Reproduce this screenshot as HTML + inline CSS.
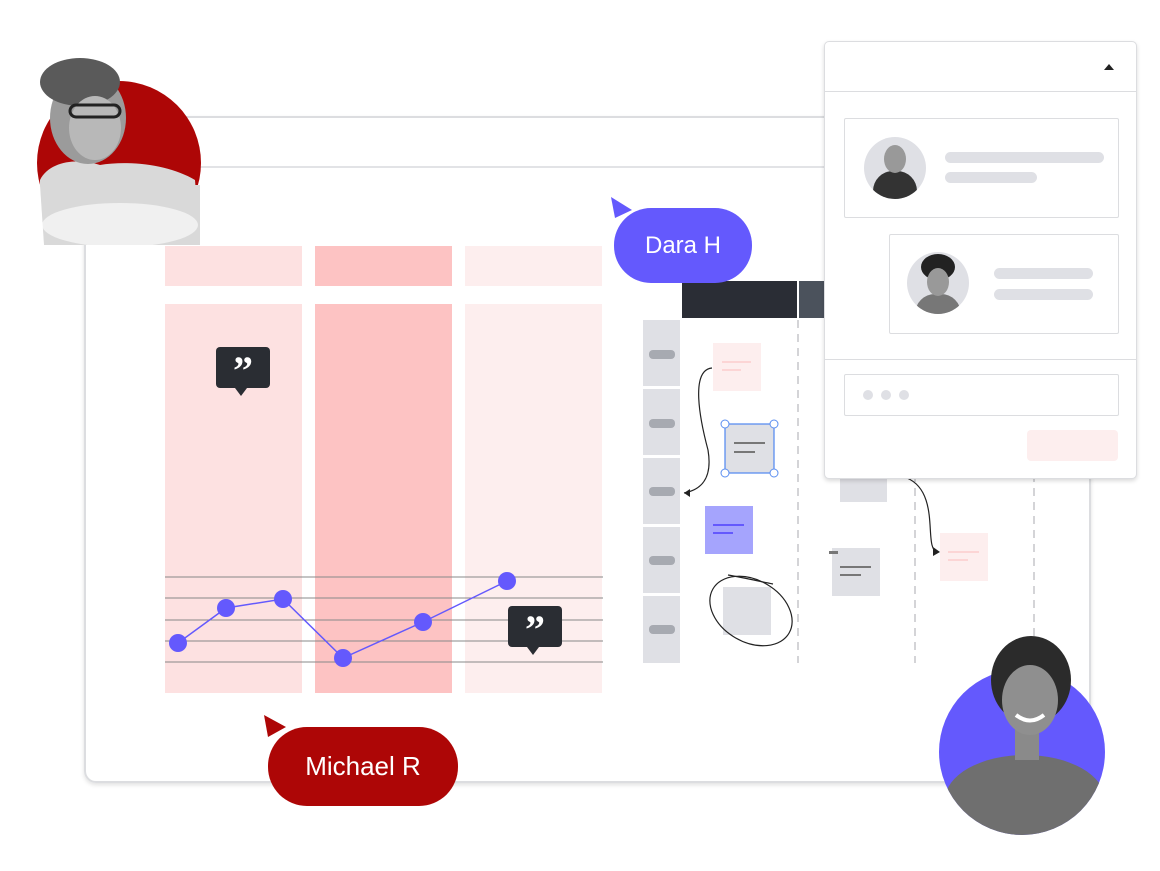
<!DOCTYPE html>
<html><head><meta charset="utf-8"><style>
body{margin:0;width:1160px;height:871px;background:#fff;position:relative;overflow:hidden;font-family:"Liberation Sans",sans-serif}
.a{position:absolute}
</style></head><body>
<div class="a" style="left:84px;top:116px;width:1003px;height:663px;border:2px solid #dcdde0;border-radius:12px;box-shadow:0 2px 4px rgba(0,0,0,.12)"></div>
<div class="a" style="left:86px;top:166px;width:1000px;height:2px;background:#e2e3e6"></div>
<div class="a" style="left:165px;top:246px;width:137px;height:40px;background:#fde1e1"></div>
<div class="a" style="left:315px;top:246px;width:137px;height:40px;background:#fdc3c3"></div>
<div class="a" style="left:465px;top:246px;width:137px;height:40px;background:#fdeeee"></div>
<div class="a" style="left:165px;top:304px;width:137px;height:389px;background:#fde1e1"></div>
<div class="a" style="left:315px;top:304px;width:137px;height:389px;background:#fdc3c3"></div>
<div class="a" style="left:465px;top:304px;width:137px;height:389px;background:#fdeeee"></div>
<svg class="a" style="left:0;top:0" width="1160" height="871">
<defs>
<clipPath id="c1"><circle cx="119" cy="163" r="82"/></clipPath>
<clipPath id="c2"><circle cx="1022" cy="752" r="83"/></clipPath>
</defs>
<g stroke="#888" stroke-width="1">
<line x1="165" y1="577" x2="603" y2="577"/><line x1="165" y1="598" x2="603" y2="598"/><line x1="165" y1="620" x2="603" y2="620"/><line x1="165" y1="641" x2="603" y2="641"/><line x1="165" y1="662" x2="603" y2="662"/></g>
<polyline points="178,643 226,608 283,599 343,658 423,622 507,581" fill="none" stroke="#6459fd" stroke-width="1.5"/>
<g fill="#6459fd"><circle cx="178" cy="643" r="9"/><circle cx="226" cy="608" r="9"/><circle cx="283" cy="599" r="9"/><circle cx="343" cy="658" r="9"/><circle cx="423" cy="622" r="9"/><circle cx="507" cy="581" r="9"/></g>
<g fill="#2a2d33"><rect x="216" y="347" width="54" height="41" rx="4"/><polygon points="235,388 247,388 241,396"/><rect x="508" y="606" width="54" height="41" rx="4"/><polygon points="527,647 539,647 533,655"/></g>
<text x="243" y="384" font-size="40" font-weight="bold" fill="#fff" text-anchor="middle" font-family="Liberation Serif">”</text>
<text x="535" y="643" font-size="40" font-weight="bold" fill="#fff" text-anchor="middle" font-family="Liberation Serif">”</text>
<rect x="682" y="281" width="115" height="37" fill="#2a2d35"/><rect x="799" y="281" width="30" height="37" fill="#4b525c"/>
<g fill="#dfe0e5"><rect x="643" y="320" width="37" height="66"/><rect x="643" y="389" width="37" height="66"/><rect x="643" y="458" width="37" height="66"/><rect x="643" y="527" width="37" height="66"/><rect x="643" y="596" width="37" height="67"/></g>
<g fill="#a7aab1"><rect x="649" y="350" width="26" height="9" rx="4"/><rect x="649" y="419" width="26" height="9" rx="4"/><rect x="649" y="487" width="26" height="9" rx="4"/><rect x="649" y="556" width="26" height="9" rx="4"/><rect x="649" y="625" width="26" height="9" rx="4"/></g>
<g stroke="#c5c6ca" stroke-width="1.5" stroke-dasharray="8,6"><line x1="798" y1="320" x2="798" y2="663"/><line x1="915" y1="320" x2="915" y2="663"/><line x1="1034" y1="320" x2="1034" y2="663"/></g>
<rect x="713" y="343" width="48" height="48" fill="#fdeeee"/><line x1="722" y1="362" x2="751" y2="362" stroke="#fcd5d5" stroke-width="2"/><line x1="722" y1="370" x2="741" y2="370" stroke="#fcd5d5" stroke-width="2"/>
<path d="M712 368 C690 370 700 420 708 450 C713 480 700 490 684 493" fill="none" stroke="#222" stroke-width="1.2"/><polygon points="684,493 690,489 690,497" fill="#222"/>
<rect x="725" y="424" width="49" height="49" fill="#dfe0e5" stroke="#5b8ef0" stroke-width="1.3"/>
<g fill="#fff" stroke="#5b8ef0"><circle cx="725" cy="424" r="4"/><circle cx="774" cy="424" r="4"/><circle cx="725" cy="473" r="4"/><circle cx="774" cy="473" r="4"/></g>
<line x1="734" y1="443" x2="765" y2="443" stroke="#777" stroke-width="2"/><line x1="734" y1="452" x2="755" y2="452" stroke="#777" stroke-width="2"/>
<rect x="705" y="506" width="48" height="48" fill="#a5a4fd"/><line x1="713" y1="525" x2="744" y2="525" stroke="#6459fd" stroke-width="2"/><line x1="713" y1="533" x2="733" y2="533" stroke="#6459fd" stroke-width="2"/>
<rect x="723" y="587" width="48" height="48" fill="#dfe0e5"/>
<ellipse cx="751" cy="611" rx="44" ry="31" transform="rotate(30 751 611)" fill="none" stroke="#222" stroke-width="1.2"/>
<path d="M728 575 C745 578 758 581 773 584" stroke="#222" fill="none" stroke-width="1.2"/>
<rect x="840" y="470" width="47" height="32" fill="#dfe0e5"/>
<rect x="832" y="548" width="48" height="48" fill="#dfe0e5"/><line x1="840" y1="567" x2="871" y2="567" stroke="#777" stroke-width="2"/><line x1="840" y1="575" x2="861" y2="575" stroke="#777" stroke-width="2"/><rect x="829" y="551" width="9" height="3" fill="#777"/>
<rect x="940" y="533" width="48" height="48" fill="#fdeeee"/><line x1="948" y1="552" x2="979" y2="552" stroke="#fcd5d5" stroke-width="2"/><line x1="948" y1="560" x2="968" y2="560" stroke="#fcd5d5" stroke-width="2"/>
<path d="M907 478 C935 490 928 530 932 545 C934 552 936 552 938 552" fill="none" stroke="#222" stroke-width="1.2"/><polygon points="940,552 933,547 933,556" fill="#222"/>
<polygon points="611,197 632,210 615,218" fill="#6459fd"/>
<polygon points="264,715 286,727 268,737" fill="#ad0606"/>
<!-- man avatar -->
<circle cx="119" cy="163" r="82" fill="#ad0606"/>
<path d="M40 180 C50 160 80 158 100 165 C130 160 170 165 195 180 L200 245 L40 245 Z" fill="#d9d9d9" clip-path="url(#c1)"/>
<path d="M40 185 L44 245 L200 245 L200 185 Z" fill="#d9d9d9"/>
<ellipse cx="120" cy="225" rx="78" ry="22" fill="#fff" opacity="0.6"/>
<ellipse cx="88" cy="118" rx="38" ry="46" fill="#9b9b9b"/>
<ellipse cx="80" cy="82" rx="40" ry="24" fill="#5a5a5a"/>
<ellipse cx="95" cy="128" rx="26" ry="32" fill="#b8b8b8"/>
<rect x="70" y="105" width="50" height="12" rx="6" fill="none" stroke="#222" stroke-width="3"/>
<!-- woman avatar -->
<circle cx="1022" cy="752" r="83" fill="#6459fd"/>
<g clip-path="url(#c2)">
<ellipse cx="1025" cy="800" rx="80" ry="45" fill="#6f6f6f"/>
<rect x="1015" y="720" width="24" height="40" fill="#8a8a8a"/>
</g>
<ellipse cx="1031" cy="680" rx="40" ry="44" fill="#2b2b2b"/>
<ellipse cx="1030" cy="700" rx="28" ry="35" fill="#8f8f8f"/>
<path d="M1016 715 Q1030 726 1044 715" stroke="#fff" stroke-width="4" fill="none"/>
</svg>
<div class="a" style="left:614px;top:208px;width:138px;height:75px;border-radius:37px;background:#6459fd;color:#fff;font-size:24px;line-height:75px;text-align:center">Dara H</div>
<div class="a" style="left:268px;top:727px;width:190px;height:79px;border-radius:39px;background:#ad0606;color:#fff;font-size:26px;line-height:79px;text-align:center">Michael R</div>
<div class="a" style="left:824px;top:41px;width:311px;height:436px;background:#fff;border:1px solid #dcdde0;border-radius:5px;box-shadow:0 2px 4px rgba(0,0,0,.15)">
<div class="a" style="left:0;top:49px;width:311px;height:1px;background:#dcdde0"></div>
<div class="a" style="left:279px;top:22px;width:0;height:0;border-left:5px solid transparent;border-right:5px solid transparent;border-bottom:6px solid #222"></div>
<div class="a" style="left:19px;top:76px;width:273px;height:98px;border:1px solid #dcdde0;border-radius:2px">
<div class="a" style="left:19px;top:18px;width:62px;height:62px;border-radius:50%;background:#dfe0e5;overflow:hidden">
<div class="a" style="left:9px;top:34px;width:44px;height:40px;border-radius:20px 20px 0 0;background:#333"></div>
<div class="a" style="left:20px;top:8px;width:22px;height:28px;border-radius:50%;background:#999"></div></div>
<div class="a" style="left:100px;top:33px;width:159px;height:11px;border-radius:6px;background:#dfe0e5"></div>
<div class="a" style="left:100px;top:53px;width:92px;height:11px;border-radius:6px;background:#dfe0e5"></div></div>
<div class="a" style="left:64px;top:192px;width:228px;height:98px;border:1px solid #dcdde0;border-radius:2px">
<div class="a" style="left:17px;top:17px;width:62px;height:62px;border-radius:50%;background:#dfe0e5;overflow:hidden">
<div class="a" style="left:8px;top:42px;width:46px;height:30px;border-radius:20px 20px 0 0;background:#777"></div>
<div class="a" style="left:14px;top:2px;width:34px;height:26px;border-radius:50%;background:#222"></div>
<div class="a" style="left:20px;top:16px;width:22px;height:28px;border-radius:50%;background:#999"></div></div>
<div class="a" style="left:104px;top:33px;width:99px;height:11px;border-radius:6px;background:#dfe0e5"></div>
<div class="a" style="left:104px;top:54px;width:99px;height:11px;border-radius:6px;background:#dfe0e5"></div></div>
<div class="a" style="left:0;top:317px;width:311px;height:1px;background:#dcdde0"></div>
<div class="a" style="left:19px;top:332px;width:273px;height:40px;border:1px solid #dcdde0;border-radius:2px">
<div class="a" style="left:18px;top:15px;width:10px;height:10px;border-radius:50%;background:#dfe0e5"></div>
<div class="a" style="left:36px;top:15px;width:10px;height:10px;border-radius:50%;background:#dfe0e5"></div>
<div class="a" style="left:54px;top:15px;width:10px;height:10px;border-radius:50%;background:#dfe0e5"></div></div>
<div class="a" style="left:202px;top:388px;width:91px;height:31px;border-radius:4px;background:#fdeeee"></div>
</div>
</body></html>
